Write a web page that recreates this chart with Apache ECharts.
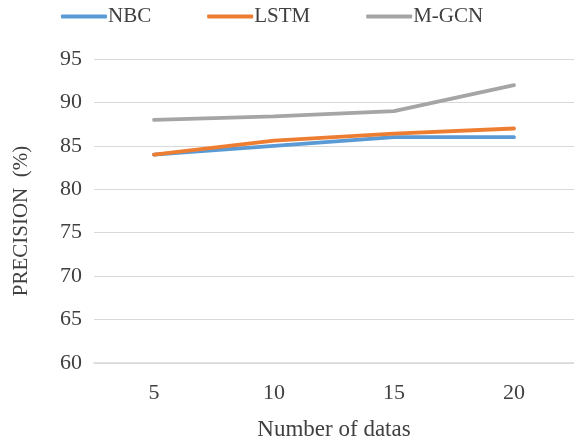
<!DOCTYPE html>
<html>
<head>
<meta charset="utf-8">
<script src="https://cdn.jsdelivr.net/npm/echarts@6/dist/echarts.min.js"></script>
<style>
  html, body { margin: 0; padding: 0; background: #fff; }
  #chart { width: 574px; height: 446px; }
</style>
</head>
<body>
<div id="chart"></div>
<script>
// Precision of each model against the amount of data
var categories = ['5', '10', '15', '20'];
var nbc = [84, 85, 86, 86];
var lstm = [84, 85.6, 86.4, 87];
var mgcn = [88, 88.4, 89, 92];
var yTicks = { min: 60, max: 95, step: 5 };

var FONT = '"Liberation Serif", "Times New Roman", serif';
var TEXT = '#404040';

var chart = echarts.init(document.getElementById('chart'), null, { renderer: 'canvas' });

function lineSeries(name, data, color) {
  return {
    name: name,
    type: 'line',
    data: data,
    symbol: 'none',
    smooth: false,
    lineStyle: { color: color, width: 3.8, cap: 'round' },
    itemStyle: { color: color }
  };
}

chart.setOption({
  animation: false,
  backgroundColor: '#ffffff',
  textStyle: { fontFamily: FONT, color: TEXT },
  legend: {
    top: 1,
    left: 56,
    itemWidth: 46,
    itemHeight: 4,
    itemGap: 56,
    icon: 'roundRect',
    textStyle: { fontFamily: FONT, fontSize: 21, color: TEXT, padding: [0, 0, 0, -4] },
    data: ['NBC', 'LSTM', 'M-GCN']
  },
  grid: { left: 94, right: -3, top: 59, bottom: 75, containLabel: false },
  xAxis: {
    type: 'category',
    data: categories,
    boundaryGap: true,
    name: 'Number of datas',
    nameLocation: 'middle',
    nameGap: 55,
    nameTextStyle: { fontFamily: FONT, fontSize: 23, color: TEXT },
    axisLine: { lineStyle: { color: '#d9d9d9', width: 1.5 } },
    axisTick: { show: false },
    axisLabel: { fontFamily: FONT, fontSize: 22, color: TEXT, margin: 19 }
  },
  yAxis: {
    type: 'value',
    min: yTicks.min,
    max: yTicks.max,
    interval: yTicks.step,
    name: 'PRECISION  (%)',
    nameLocation: 'middle',
    nameRotate: 90,
    nameGap: 62,
    nameTextStyle: { fontFamily: FONT, fontSize: 21, color: TEXT, padding: [0, 20, 0, 0] },
    axisLine: { show: false },
    axisTick: { show: false },
    axisLabel: { fontFamily: FONT, fontSize: 22, color: TEXT, margin: 12 },
    splitLine: { lineStyle: { color: '#d9d9d9', width: 1.2 } }
  },
  series: [
    lineSeries('NBC', nbc, '#5b9bd5'),
    lineSeries('LSTM', lstm, '#ed7d31'),
    lineSeries('M-GCN', mgcn, '#a5a5a5')
  ]
});
</script>
</body>
</html>
